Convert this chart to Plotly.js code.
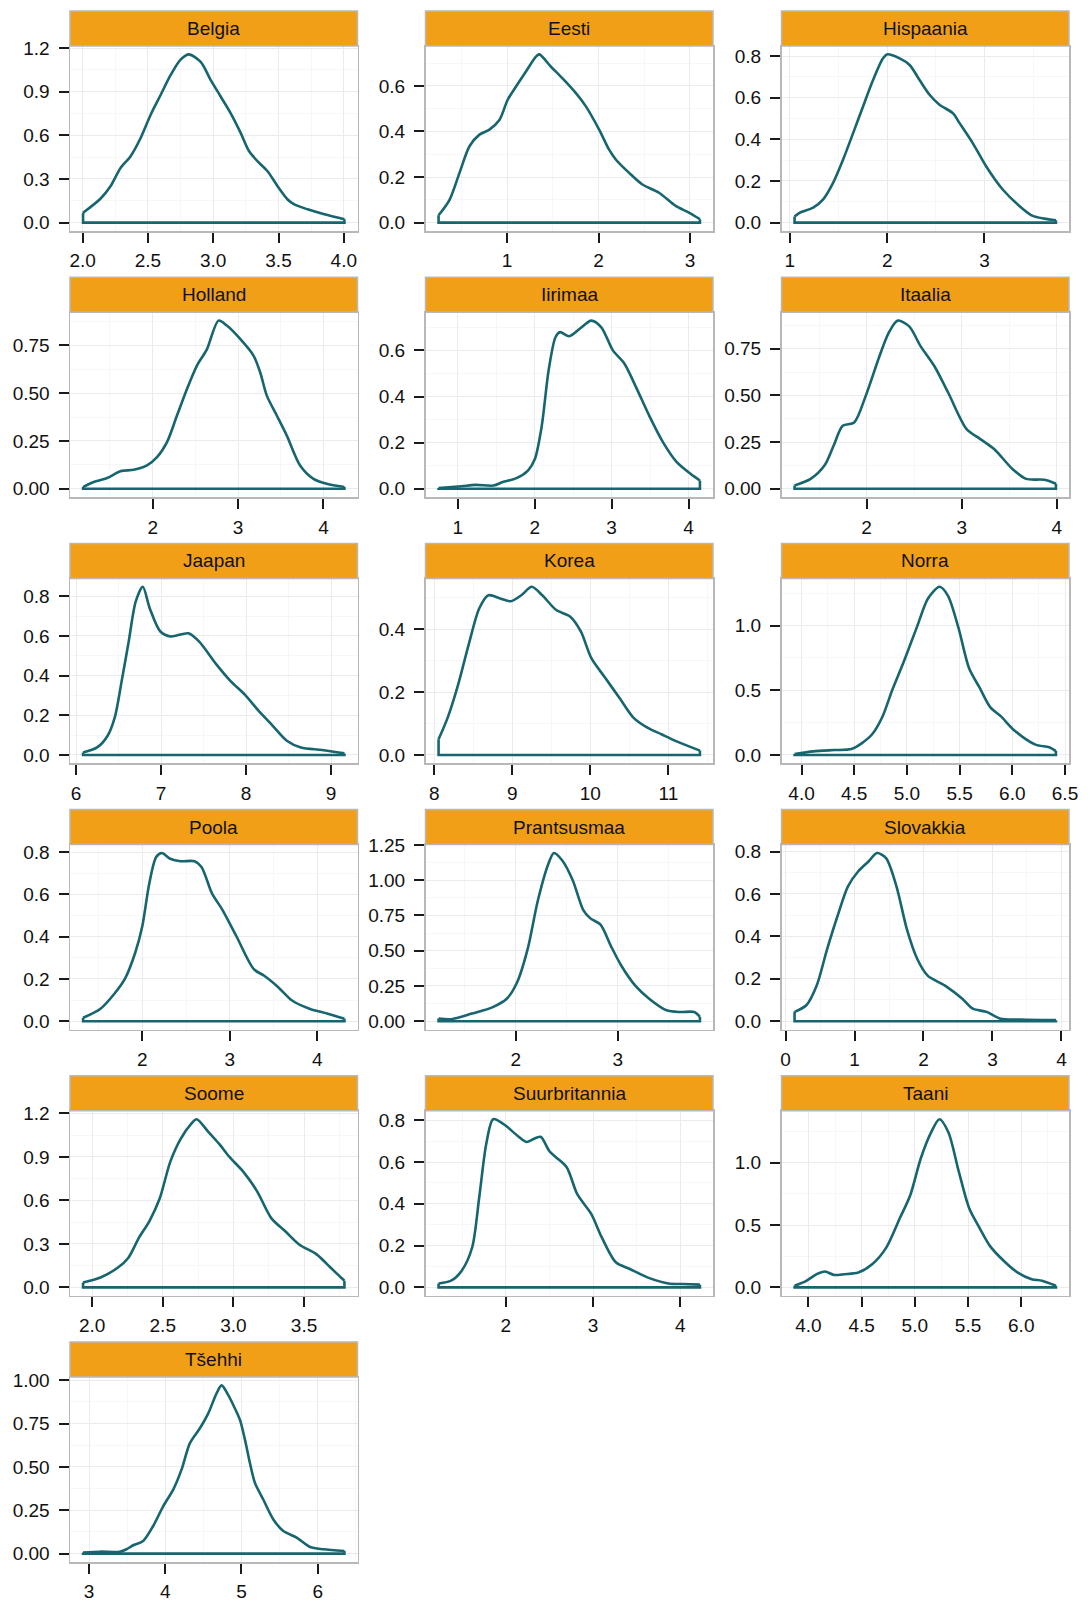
<!DOCTYPE html>
<html><head><meta charset="utf-8">
<script src="https://cdn.plot.ly/plotly-3.0.1.min.js"></script>
<style>html,body{margin:0;padding:0;background:#fff}</style>
</head><body><div id="chart" style="width:1090px;height:1601px"></div>
<script>
// ---- data (density curves) ----
const countries = ["Belgia","Eesti","Hispaania","Holland","Iirimaa","Itaalia","Jaapan","Korea","Norra","Poola","Prantsusmaa","Slovakkia","Soome","Suurbritannia","Taani","Tšehhi"];

const belgiaX = [2.003,2.136,2.213,2.29,2.366,2.443,2.52,2.597,2.673,2.75,2.814,2.904,2.981,3.058,3.134,3.211,3.275,3.352,3.416,3.493,3.57,3.621,3.723,3.851,4.005];
const belgiaY = [0.068,0.164,0.25,0.376,0.455,0.58,0.74,0.877,1.013,1.12,1.156,1.104,0.979,0.865,0.751,0.615,0.49,0.41,0.353,0.25,0.159,0.125,0.091,0.057,0.023];
const belgiaXTicks = ["2.0","2.5","3.0","3.5","4.0"];
const belgiaYTicks = ["0.0","0.3","0.6","0.9","1.2"];

const eestiX = [0.251,0.371,0.48,0.589,0.698,0.807,0.916,1.007,1.098,1.207,1.316,1.353,1.48,1.607,1.753,1.862,2.007,2.116,2.189,2.335,2.48,2.662,2.844,2.989,3.109];
const eestiY = [0.032,0.10,0.218,0.335,0.386,0.408,0.45,0.539,0.597,0.663,0.728,0.738,0.684,0.633,0.568,0.51,0.408,0.32,0.277,0.218,0.167,0.131,0.073,0.044,0.015];
const eestiXTicks = ["1","2","3"];
const eestiYTicks = ["0.0","0.2","0.4","0.6"];

const hispaaniaX = [1.048,1.103,1.239,1.342,1.444,1.547,1.65,1.752,1.855,1.957,1.998,2.128,2.231,2.333,2.436,2.538,2.675,2.744,2.88,3.017,3.188,3.359,3.496,3.615,3.735];
const hispaaniaY = [0.029,0.048,0.072,0.112,0.191,0.303,0.43,0.558,0.685,0.789,0.808,0.789,0.757,0.685,0.614,0.566,0.526,0.478,0.382,0.271,0.159,0.08,0.032,0.019,0.011];
const hispaaniaXTicks = ["1","2","3"];
const hispaaniaYTicks = ["0.0","0.2","0.4","0.6","0.8"];

const hollandX = [1.185,1.31,1.466,1.622,1.778,1.934,2.051,2.168,2.285,2.402,2.519,2.635,2.772,2.869,3.025,3.181,3.259,3.337,3.454,3.571,3.727,3.883,4.039,4.246];
const hollandY = [0.009,0.035,0.056,0.092,0.099,0.122,0.165,0.244,0.383,0.522,0.644,0.729,0.879,0.853,0.783,0.696,0.609,0.487,0.383,0.278,0.122,0.052,0.026,0.009];
const hollandXTicks = ["2","3","4"];
const hollandYTicks = ["0.00","0.25","0.50","0.75"];

const iirimaaX = [0.75,1.048,1.227,1.465,1.584,1.763,1.912,2.002,2.091,2.181,2.27,2.33,2.449,2.598,2.735,2.866,3.016,3.165,3.314,3.493,3.671,3.85,4.029,4.148];
const iirimaaY = [0.003,0.011,0.017,0.014,0.029,0.046,0.079,0.129,0.271,0.514,0.657,0.679,0.661,0.697,0.729,0.70,0.60,0.543,0.443,0.314,0.20,0.114,0.064,0.036];
const iirimaaXTicks = ["1","2","3","4"];
const iirimaaYTicks = ["0.0","0.2","0.4","0.6"];

const itaaliaX = [1.243,1.412,1.557,1.653,1.749,1.87,1.99,2.135,2.231,2.328,2.448,2.569,2.713,2.858,3.051,3.195,3.34,3.533,3.677,3.87,3.99];
const itaaliaY = [0.018,0.053,0.124,0.23,0.337,0.355,0.496,0.709,0.833,0.90,0.869,0.762,0.656,0.514,0.319,0.266,0.213,0.106,0.053,0.048,0.027];
const itaaliaXTicks = ["2","3","4"];
const itaaliaYTicks = ["0.00","0.25","0.50","0.75"];

const jaapanX = [6.083,6.248,6.372,6.455,6.537,6.62,6.702,6.785,6.868,6.992,7.116,7.322,7.446,7.653,7.818,7.983,8.149,8.314,8.479,8.645,8.893,9.157];
const jaapanY = [0.013,0.038,0.097,0.188,0.372,0.572,0.772,0.847,0.738,0.622,0.597,0.613,0.572,0.455,0.372,0.305,0.222,0.147,0.072,0.038,0.025,0.008];
const jaapanXTicks = ["6","7","8","9"];
const jaapanYTicks = ["0.0","0.2","0.4","0.6","0.8"];

const koreaX = [8.054,8.171,8.305,8.44,8.575,8.692,8.845,8.979,9.114,9.249,9.384,9.563,9.743,9.878,10.013,10.192,10.372,10.552,10.731,10.911,11.091,11.405];
const koreaY = [0.05,0.119,0.224,0.351,0.466,0.508,0.498,0.489,0.508,0.535,0.508,0.461,0.44,0.393,0.308,0.245,0.182,0.119,0.087,0.066,0.045,0.014];
const koreaXTicks = ["8","9","10","11"];
const koreaYTicks = ["0.0","0.2","0.4"];

const norraX = [3.934,4.112,4.309,4.474,4.57,4.67,4.77,4.86,4.97,5.10,5.20,5.31,5.39,5.49,5.59,5.69,5.79,5.89,6.02,6.22,6.35,6.414];
const norraY = [0.008,0.028,0.038,0.046,0.09,0.16,0.30,0.50,0.72,1.0,1.21,1.30,1.23,0.98,0.67,0.52,0.37,0.30,0.19,0.08,0.06,0.03];
const norraXTicks = ["4.0","4.5","5.0","5.5","6.0","6.5"];
const norraYTicks = ["0.0","0.5","1.0"];

const poolaX = [1.323,1.522,1.681,1.801,1.92,2.0,2.08,2.159,2.223,2.319,2.438,2.598,2.677,2.797,2.916,3.076,3.275,3.394,3.554,3.713,3.912,4.112,4.311];
const poolaY = [0.016,0.059,0.13,0.2,0.325,0.449,0.652,0.777,0.796,0.769,0.757,0.757,0.73,0.605,0.527,0.402,0.246,0.215,0.161,0.098,0.059,0.036,0.012];
const poolaXTicks = ["2","3","4"];
const poolaYTicks = ["0.0","0.2","0.4","0.6","0.8"];

const prantsusmaaX = [1.245,1.367,1.571,1.776,1.912,2.014,2.116,2.218,2.32,2.374,2.456,2.558,2.66,2.728,2.83,2.932,3.034,3.17,3.306,3.476,3.612,3.748,3.803];
const prantsusmaaY = [0.019,0.014,0.054,0.10,0.159,0.276,0.509,0.86,1.117,1.193,1.14,1.0,0.79,0.731,0.685,0.533,0.393,0.252,0.159,0.077,0.065,0.065,0.03];
const prantsusmaaXTicks = ["2","3"];
const prantsusmaaYTicks = ["0.00","0.25","0.50","0.75","1.00","1.25"];

const slovakkiaX = [0.131,0.302,0.452,0.603,0.754,0.905,1.055,1.206,1.327,1.457,1.608,1.759,1.91,2.06,2.312,2.563,2.714,2.915,3.116,3.417,3.92];
const slovakkiaY = [0.044,0.075,0.168,0.34,0.496,0.636,0.707,0.754,0.793,0.769,0.636,0.434,0.293,0.215,0.168,0.106,0.059,0.044,0.012,0.008,0.005];
const slovakkiaXTicks = ["0","1","2","3","4"];
const slovakkiaYTicks = ["0.0","0.2","0.4","0.6","0.8"];

const soomeX = [1.936,2.059,2.183,2.257,2.331,2.405,2.479,2.553,2.627,2.701,2.74,2.824,2.898,2.972,3.071,3.169,3.268,3.367,3.465,3.589,3.687,3.761,3.786];
const soomeY = [0.034,0.068,0.137,0.205,0.342,0.456,0.615,0.866,1.025,1.128,1.16,1.071,0.991,0.90,0.797,0.661,0.478,0.387,0.296,0.228,0.137,0.068,0.046];
const soomeXTicks = ["2.0","2.5","3.0","3.5"];
const soomeYTicks = ["0.0","0.3","0.6","0.9","1.2"];

const suurbritanniaX = [1.229,1.373,1.494,1.614,1.695,1.775,1.855,1.976,2.137,2.241,2.337,2.402,2.498,2.578,2.699,2.819,2.98,3.1,3.261,3.422,3.622,3.863,4.024,4.225];
const suurbritanniaY = [0.019,0.032,0.08,0.191,0.43,0.685,0.805,0.781,0.725,0.696,0.714,0.72,0.653,0.622,0.574,0.446,0.351,0.239,0.12,0.088,0.048,0.019,0.016,0.013];
const suurbritanniaXTicks = ["2","3","4"];
const suurbritanniaYTicks = ["0.0","0.2","0.4","0.6","0.8"];

const taaniX = [3.87,3.98,4.078,4.156,4.241,4.339,4.469,4.599,4.73,4.86,4.958,5.055,5.153,5.231,5.316,5.414,5.511,5.609,5.707,5.837,5.967,6.098,6.195,6.326];
const taaniY = [0.013,0.053,0.106,0.127,0.10,0.106,0.119,0.185,0.317,0.556,0.741,1.032,1.243,1.349,1.243,0.926,0.635,0.476,0.331,0.212,0.119,0.066,0.053,0.013];
const taaniXTicks = ["4.0","4.5","5.0","5.5","6.0"];
const taaniYTicks = ["0.0","0.5","1.0"];

const tsehhiX = [2.921,3.14,3.403,3.491,3.578,3.71,3.841,3.972,4.104,4.213,4.323,4.454,4.564,4.673,4.739,4.827,4.892,4.98,5.046,5.111,5.177,5.286,5.418,5.549,5.724,5.9,6.075,6.351];
const tsehhiY = [0.006,0.011,0.011,0.025,0.048,0.073,0.159,0.273,0.369,0.484,0.637,0.723,0.809,0.924,0.97,0.914,0.857,0.771,0.656,0.522,0.407,0.312,0.197,0.13,0.092,0.038,0.025,0.015];
const tsehhiXTicks = ["3","4","5","6"];
const tsehhiYTicks = ["0.00","0.25","0.50","0.75","1.00"];

const seriesX = [belgiaX,eestiX,hispaaniaX,hollandX,iirimaaX,itaaliaX,jaapanX,koreaX,norraX,poolaX,prantsusmaaX,slovakkiaX,soomeX,suurbritanniaX,taaniX,tsehhiX];
const seriesY = [belgiaY,eestiY,hispaaniaY,hollandY,iirimaaY,itaaliaY,jaapanY,koreaY,norraY,poolaY,prantsusmaaY,slovakkiaY,soomeY,suurbritanniaY,taaniY,tsehhiY];
const xTickLabels = [belgiaXTicks,eestiXTicks,hispaaniaXTicks,hollandXTicks,iirimaaXTicks,itaaliaXTicks,jaapanXTicks,koreaXTicks,norraXTicks,poolaXTicks,prantsusmaaXTicks,slovakkiaXTicks,soomeXTicks,suurbritanniaXTicks,taaniXTicks,tsehhiXTicks];
const yTickLabels = [belgiaYTicks,eestiYTicks,hispaaniaYTicks,hollandYTicks,iirimaaYTicks,itaaliaYTicks,jaapanYTicks,koreaYTicks,norraYTicks,poolaYTicks,prantsusmaaYTicks,slovakkiaYTicks,soomeYTicks,suurbritanniaYTicks,taaniYTicks,tsehhiYTicks];

// ---- styling / layout ----
const W = 1090, H = 1601;
const colLeft = [70, 425.5, 781.5], panelW = 287.5;
const rowTop0 = 46, rowPitch = 266.2, panelH = 185, stripH = 35;
const lineColor = "#17666f";
const stripFill = "#F29F18";
const borderColor = "#b8b8b8";
const FONT = "Liberation Sans, Arial, sans-serif";

function minorVals(major, lo, hi) {
  const out = [];
  if (major.length < 2) return out;
  const step = major[1] - major[0];
  for (let v = major[0] - step / 2; v <= hi; v += step) if (v >= lo) out.push(v);
  for (let v = major[0] - step * 1.5; v >= lo; v -= step) out.push(v);
  return out;
}

const traces = [];
const layout = {
  width: W, height: H, margin: {l: 0, r: 0, t: 0, b: 0},
  paper_bgcolor: "#ffffff", plot_bgcolor: "#ffffff",
  showlegend: false, shapes: [], annotations: [],
  font: {family: FONT, size: 19, color: "#111"}
};

countries.forEach((name, i) => {
  const c = i % 3, r = Math.floor(i / 3);
  const L = colLeft[c], T = rowTop0 + r * rowPitch, B = T + panelH;
  const sfx = i === 0 ? "" : String(i + 1);
  const xs = seriesX[i], ys = seriesY[i], n = xs.length;
  const xmin = Math.min(...xs), xmax = Math.max(...xs), span = xmax - xmin;
  const ymax = Math.max(...ys);
  const xr = [xmin - 0.05 * span, xmax + 0.05 * span];
  const yr = [-0.05 * ymax, 1.05 * ymax];
  const xt = xTickLabels[i].map(Number), yt = yTickLabels[i].map(Number);

  traces.push({x: xs, y: ys, xaxis: "x" + sfx, yaxis: "y" + sfx, mode: "lines",
    line: {color: lineColor, width: 2.6, shape: "spline", smoothing: 0.8}, hoverinfo: "skip"});
  traces.push({x: [xs[0], xs[0], xs[n - 1], xs[n - 1]], y: [ys[0], 0, 0, ys[n - 1]],
    xaxis: "x" + sfx, yaxis: "y" + sfx, mode: "lines",
    line: {color: lineColor, width: 2.6}, hoverinfo: "skip"});

  const common = {
    ticks: "outside", ticklen: 10, tickwidth: 2, tickcolor: "#1a1a1a",
    showline: true, mirror: true, linecolor: borderColor, linewidth: 1.5,
    showgrid: true, gridcolor: "#ebebeb", gridwidth: 1, zeroline: false,
    tickfont: {family: FONT, size: 19, color: "#111"}, fixedrange: true
  };
  layout["xaxis" + sfx] = Object.assign({}, common, {
    domain: [L / W, (L + panelW) / W], anchor: "y" + sfx, range: xr,
    tickmode: "array", tickvals: xt, ticktext: xTickLabels[i], ticklabelstandoff: 2,
    minor: {tickmode: "array", tickvals: minorVals(xt, xr[0], xr[1]), showgrid: true, gridcolor: "#f7f7f7", gridwidth: 1, ticks: ""}
  });
  layout["yaxis" + sfx] = Object.assign({}, common, {
    domain: [1 - B / H, 1 - T / H], anchor: "x" + sfx, range: yr,
    tickmode: "array", tickvals: yt, ticktext: yTickLabels[i], ticklabelstandoff: 5,
    minor: {tickmode: "array", tickvals: minorVals(yt, yr[0], yr[1]), showgrid: true, gridcolor: "#f7f7f7", gridwidth: 1, ticks: ""}
  });

  layout.shapes.push({type: "rect", xref: "paper", yref: "paper",
    x0: L / W, x1: (L + panelW) / W, y0: 1 - T / H, y1: 1 - (T - stripH) / H,
    fillcolor: stripFill, line: {color: borderColor, width: 1.5}, layer: "above"});
  layout.annotations.push({text: name, xref: "paper", yref: "paper",
    x: (L + panelW / 2) / W, y: 1 - (T - stripH / 2) / H, xanchor: "center", yanchor: "middle",
    showarrow: false, font: {family: FONT, size: 19, color: "#111"}});
});

Plotly.newPlot("chart", traces, layout, {staticPlot: true, displayModeBar: false});
</script>
</body></html>
